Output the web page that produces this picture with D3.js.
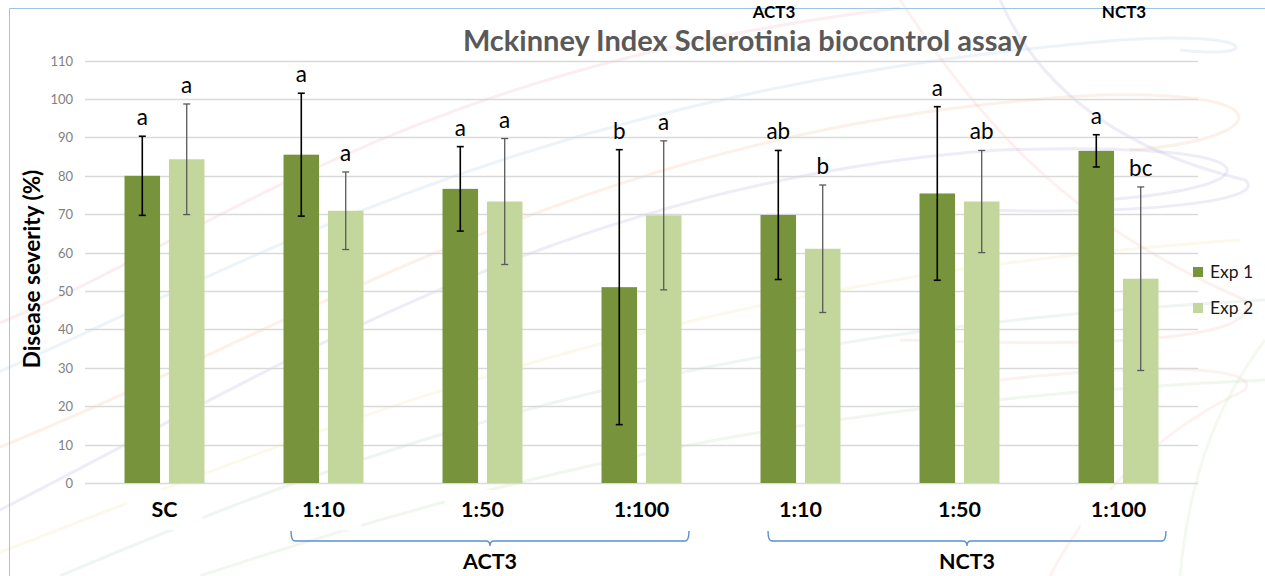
<!DOCTYPE html>
<html>
<head>
<meta charset="utf-8">
<script src="https://cdn.jsdelivr.net/npm/d3@7"></script>
<style>
  html, body { margin: 0; padding: 0; background: #fff; }
  svg { display: block; }
  text { font-family: Lato, "Open Sans", sans-serif; }
</style>
</head>
<body>
<svg id="chart" width="1265" height="576"></svg>
<script>
// Disease severity (McKinney index) per treatment, two experiments
const categories = ["SC", "1:10", "1:50", "1:100", "1:10", "1:50", "1:100"];
const seriesNames = ["Exp 1", "Exp 2"];
const exp1 = [80.0, 85.5, 76.6, 51.0, 69.8, 75.4, 86.5];
const exp1Err = [10.3, 16.0, 11.0, 35.8, 16.8, 22.6, 4.2];
const exp2 = [84.3, 70.9, 73.3, 69.7, 61.0, 73.3, 53.2];
const exp2Err = [14.4, 10.1, 16.4, 19.4, 16.6, 13.3, 23.9];
const letters1 = ["a", "a", "a", "b", "ab", "a", "a"];
const letters2 = ["a", "a", "a", "a", "b", "ab", "bc"];
const groupNames = ["ACT3", "NCT3"];
const groupFirst = [1, 4];
const groupLast = [3, 6];
const yTicks = [0, 10, 20, 30, 40, 50, 60, 70, 80, 90, 100, 110];
const title = "Mckinney Index Sclerotinia biocontrol assay";
const yTitle = "Disease severity (%)";

const svg = d3.select("#chart");
const colors = { "Exp 1": "#77933C", "Exp 2": "#C3D69B" };
const errColors = { "Exp 1": "#000000", "Exp 2": "#595959" };

// faint decorative swirls in the background
const swirls = [
  { d: "M-20,330 C180,260 380,70 900,8", c: "#e9a3b6" },
  { d: "M-20,380 C240,270 520,90 1120,40 C1260,30 1265,60 1180,50", c: "#9fc6e8" },
  { d: "M-20,455 C300,330 600,120 1100,95 C1290,90 1270,140 1130,150", c: "#f2b493" },
  { d: "M-20,520 C260,380 560,180 1000,150 C1300,140 1270,190 1100,200", c: "#a9a3d6" },
  { d: "M-20,560 C320,430 660,280 1240,240", c: "#f1dc9a" },
  { d: "M60,576 C380,440 700,330 1265,300", c: "#a9cfc0" },
  { d: "M200,576 C520,470 820,400 1265,380", c: "#b5d6b0" },
  { d: "M900,0 C980,120 1060,220 1245,300 C1260,330 1180,350 900,340", c: "#f0b8a8" },
  { d: "M1000,0 C1040,90 1120,150 1245,180 C1270,200 1150,215 980,210", c: "#a9a3d6" },
  { d: "M1050,576 C1100,480 1180,420 1245,390 C1260,370 1180,360 1000,380", c: "#f2c0b0" },
  { d: "M1180,576 C1190,470 1220,400 1265,340", c: "#c9e0b3" }
];
svg.append("g").attr("class", "swirls")
  .selectAll("path").data(swirls).join("path")
  .attr("d", s => s.d).attr("fill", "none")
  .attr("stroke", s => s.c).attr("stroke-width", 3).attr("opacity", 0.2);

// chart frame (left and top edges visible)
svg.append("path")
  .attr("d", "M9.5,576 V8.5 H1265")
  .attr("fill", "none").attr("stroke", "#9DC3E6").attr("stroke-width", 1);

const plotLeft = 85, plotRight = 1198;
const y = d3.scaleLinear().domain([0, 110]).range([483, 60.6]);
const x0 = d3.scaleBand().domain(d3.range(categories.length))
  .range([plotLeft, plotRight]).paddingInner(0.497).paddingOuter(0.2485);
const x1 = d3.scaleBand().domain(seriesNames).range([0, x0.bandwidth()]).paddingInner(0.2);

// gridlines
svg.append("g").selectAll("line").data(yTicks).join("line")
  .attr("x1", plotLeft).attr("x2", plotRight)
  .attr("y1", d => Math.round(y(d)) + 0.5).attr("y2", d => Math.round(y(d)) + 0.5)
  .attr("stroke", "#D9D9D9").attr("stroke-width", 1.3);

// y axis tick labels
const yAxis = d3.axisLeft(y).tickValues(yTicks).tickSize(0).tickPadding(0);
const gy = svg.append("g").attr("transform", "translate(73,0)").call(yAxis);
gy.select(".domain").remove();
gy.selectAll("text").attr("font-size", 13).attr("fill", "#7F7F7F")
  .attr("font-family", "Lato, sans-serif").attr("dy", "0.35em");

// chart title
svg.append("text").attr("x", 745).attr("y", 51).attr("text-anchor", "middle")
  .attr("font-size", 29).attr("font-weight", "bold").attr("fill", "#595959")
  .text(title);

// y axis title
svg.append("text").attr("transform", "translate(40,269) rotate(-90)")
  .attr("text-anchor", "middle").attr("font-size", 22.5).attr("font-weight", "bold")
  .attr("fill", "#000").text(yTitle);

// bars, error bars, letters
const rows = [];
categories.forEach((c, i) => {
  rows.push({ i, s: "Exp 1", v: exp1[i], e: exp1Err[i], l: letters1[i] });
  rows.push({ i, s: "Exp 2", v: exp2[i], e: exp2Err[i], l: letters2[i] });
});
const gBars = svg.append("g");
gBars.selectAll("rect").data(rows).join("rect")
  .attr("x", d => x0(d.i) + x1(d.s)).attr("width", x1.bandwidth())
  .attr("y", d => y(d.v)).attr("height", d => y(0) - y(d.v))
  .attr("fill", d => colors[d.s]);

const cx = d => x0(d.i) + x1(d.s) + x1.bandwidth() / 2;
const gErr = svg.append("g");
const eg = gErr.selectAll("g").data(rows).join("g")
  .attr("stroke", d => errColors[d.s]).attr("stroke-width", d => d.s === "Exp 1" ? 1.6 : 1.3);
eg.append("line").attr("x1", cx).attr("x2", cx)
  .attr("y1", d => y(d.v + d.e)).attr("y2", d => y(d.v - d.e));
eg.append("line").attr("x1", d => cx(d) - 3.5).attr("x2", d => cx(d) + 3.5)
  .attr("y1", d => y(d.v + d.e)).attr("y2", d => y(d.v + d.e));
eg.append("line").attr("x1", d => cx(d) - 3.5).attr("x2", d => cx(d) + 3.5)
  .attr("y1", d => y(d.v - d.e)).attr("y2", d => y(d.v - d.e));

svg.append("g").selectAll("text").data(rows).join("text")
  .attr("x", cx).attr("y", d => y(d.v + d.e) - 11)
  .attr("text-anchor", "middle").attr("font-size", 22.5).attr("fill", "#000")
  .text(d => d.l);

// category labels on white plates
const gCat = svg.append("g");
categories.forEach((c, i) => {
  const xc = x0(i) + x0.bandwidth() / 2;
  gCat.append("rect").attr("x", xc - 38).attr("y", 490).attr("width", 76).attr("height", 40)
    .attr("fill", "#fff").attr("opacity", 0.85);
  gCat.append("text").attr("x", xc).attr("y", 517).attr("text-anchor", "middle")
    .attr("font-size", 21.5).attr("font-weight", "bold").attr("fill", "#000").text(c);
});

// brackets for treatment groups
const gGrp = svg.append("g");
groupNames.forEach((name, k) => {
  const a = x0(groupFirst[k]) + 7.5;
  const b = x0(groupLast[k]) + x0.bandwidth() + 7.5;
  const m = (a + b) / 2;
  const top = 531, base = 541;
  gGrp.append("path")
    .attr("d", `M${a},${top} Q${a},${base} ${a + 4},${base} H${m - 4} Q${m},${base} ${m},${base + 5} Q${m},${base} ${m + 4},${base} H${b - 4} Q${b},${base} ${b},${top}`)
    .attr("fill", "none").attr("stroke", "#5B8FD0").attr("stroke-width", 1.4);
  gGrp.append("text").attr("x", m).attr("y", 569).attr("text-anchor", "middle")
    .attr("font-size", 21.5).attr("font-weight", "bold").attr("fill", "#000").text(name);
});

// group names repeated along the top edge
const topLabelX = [774, 1124];
groupNames.forEach((name, k) => {
  svg.append("text").attr("x", topLabelX[k]).attr("y", 17.5).attr("text-anchor", "middle")
    .attr("font-size", 17).attr("font-weight", "bold").attr("fill", "#000").text(name);
});

// legend
const lg = svg.append("g").attr("transform", "translate(1193,267)");
seriesNames.forEach((s, k) => {
  lg.append("rect").attr("x", 0).attr("y", k * 36).attr("width", 10).attr("height", 10)
    .attr("fill", colors[s]);
  lg.append("text").attr("x", 17).attr("y", k * 36 + 11).attr("font-size", 17.5)
    .attr("fill", "#1a1a1a").text(s);
});
</script>
</body>
</html>
